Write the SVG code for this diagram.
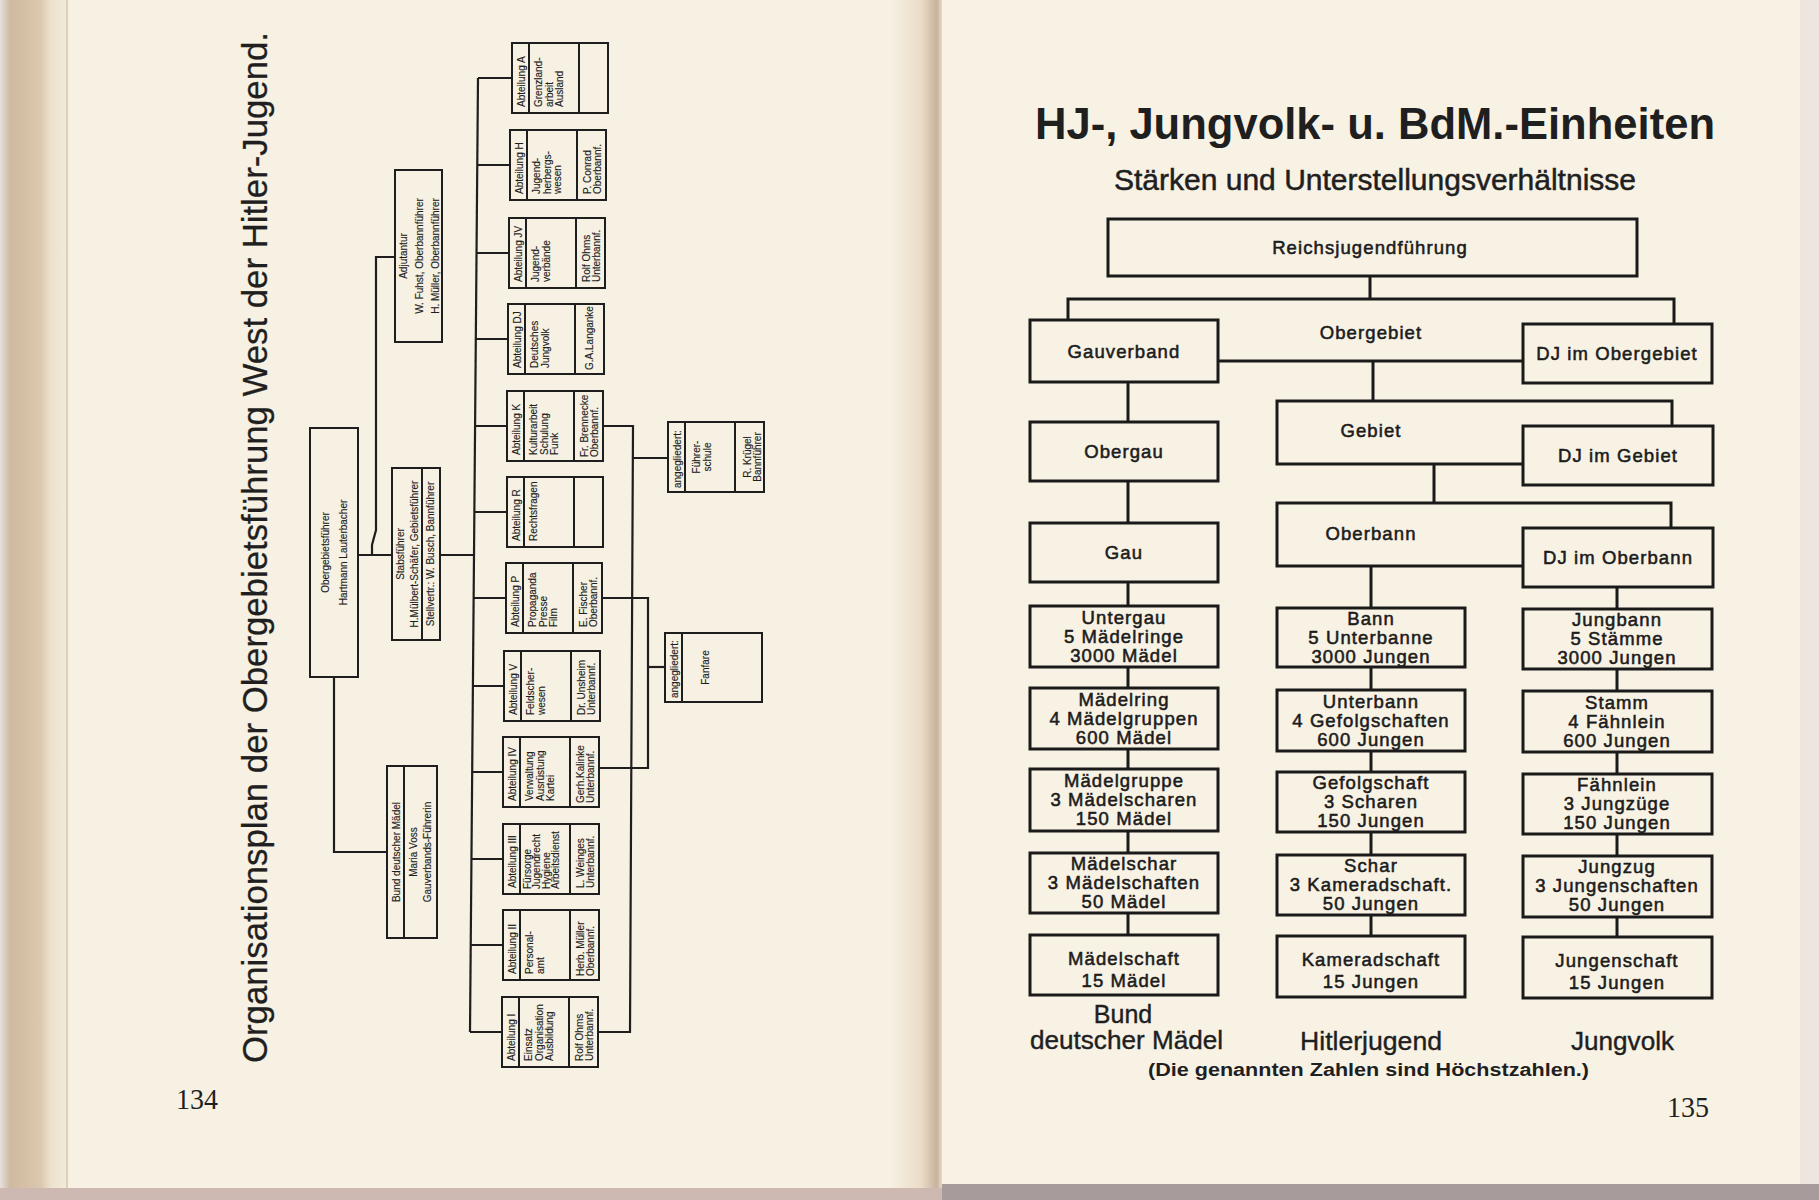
<svg xmlns="http://www.w3.org/2000/svg" xmlns:xlink="http://www.w3.org/1999/xlink" width="1819" height="1200" viewBox="0 0 1819 1200">
<style>
.lb{fill:none;stroke:#1e1e1e;stroke-width:2}
.ll{fill:none;stroke:#1e1e1e;stroke-width:2.2}
.rb{fill:none;stroke:#1a1a1a;stroke-width:3}
.rl{fill:none;stroke:#1a1a1a;stroke-width:3}
.s{font-family:"Liberation Sans",Arial,sans-serif;font-size:10px;fill:#1e1e1e;stroke:#1e1e1e;stroke-width:0.15}
.c{text-anchor:middle}
.rt{font-family:"Liberation Sans",Arial,sans-serif;font-size:18.5px;fill:#1c1c1c;stroke:#1c1c1c;stroke-width:0.55;text-anchor:middle;letter-spacing:1.1px}
.big{font-family:"Liberation Sans",Arial,sans-serif;fill:#1f1f1f}
.pn{font-family:"Liberation Serif","Times New Roman",serif;font-size:30px;fill:#1f1f1f}
</style>
<defs>
<linearGradient id="gut" x1="0" y1="0" x2="1" y2="0">
<stop offset="0" stop-color="#f7f1e3"/>
<stop offset="0.6" stop-color="#eadcc8"/>
<stop offset="0.9" stop-color="#c9b29c"/>
<stop offset="1" stop-color="#e6dac8"/>
</linearGradient>
<linearGradient id="edge" x1="0" y1="0" x2="1" y2="0">
<stop offset="0" stop-color="#e6e0de"/>
<stop offset="0.15" stop-color="#cfb9a0"/>
<stop offset="0.6" stop-color="#dcc8ae"/>
<stop offset="0.75" stop-color="#ede2cf"/>
<stop offset="1" stop-color="#f3eadb"/>
</linearGradient>
<g id="abt">
<rect class="lb" x="0" y="0" width="70" height="96"/>
<line class="lb" x1="0" y1="17" x2="70" y2="17"/>
<line class="lb" x1="0" y1="67" x2="70" y2="67"/>
</g>
</defs>

<!-- page background -->
<rect x="0" y="0" width="1819" height="1200" fill="#f7f1e3"/>
<rect x="0" y="0" width="68" height="1200" fill="url(#edge)"/>
<line x1="67" y1="0" x2="67" y2="1188" stroke="#d8c7ae" stroke-width="1.5"/>
<rect x="890" y="0" width="52" height="1200" fill="url(#gut)"/>
<rect x="942" y="0" width="877" height="1200" fill="#f8f2e5"/>
<rect x="1800" y="0" width="19" height="1200" fill="#ece6df"/>
<rect x="0" y="1188" width="942" height="12" fill="#cdb9b2"/>
<rect x="942" y="1184" width="877" height="16" fill="#a79c9b"/>

<!-- ================= LEFT PAGE ================= -->
<text class="big" transform="translate(267,1063) rotate(-90)" font-size="35" textLength="1031" lengthAdjust="spacingAndGlyphs" stroke="#1f1f1f" stroke-width="0.3">Organisationsplan der Obergebietsführung West der Hitler-Jugend.</text>
<text class="pn" x="176" y="1109" textLength="42" lengthAdjust="spacingAndGlyphs">134</text>

<g id="left-connectors">
<path class="ll" d="M478,78 L470,1032"/>
<path class="ll" d="M478,78 H512 M477.3,165 H510 M476.5,253 H509 M475.8,339 H508 M475.1,426 H507 M474.4,512 H507 M473.6,598 H506 M472.9,686 H504 M472.2,772 H503 M471.5,859 H503 M470.7,945 H503 M470,1032 H502"/>
<path class="ll" d="M358,555 H392 M440,555 H474.1"/>
<path class="ll" d="M372,555 V545 L376,530 V257 H395"/>
<path class="ll" d="M334,677 V852 H387"/>
<path class="ll" d="M603,426 H633 L630,1032 H598"/>
<path class="ll" d="M632.4,458 H668"/>
<path class="ll" d="M602,598 H648 V768 H599"/>
<path class="ll" d="M648,667 H665"/>
</g>

<g id="obergebietsfuehrer" transform="translate(310,677) rotate(-90)">
<rect class="lb" x="0" y="0" width="249" height="48"/>
<text class="s c" x="124.5" y="19">Obergebietsführer</text>
<text class="s c" x="124.5" y="37">Hartmann  Lauterbacher</text>
</g>

<g id="adjutantur" transform="translate(395,342) rotate(-90)">
<rect class="lb" x="0" y="0" width="172" height="47"/>
<text class="s c" x="86" y="11.5">Adjutantur</text>
<text class="s c" x="86" y="28">W. Fuhst, Oberbannführer</text>
<text class="s c" x="86" y="44">H. Müller, Oberbannführer</text>
</g>

<g id="stabsfuehrer" transform="translate(392,640) rotate(-90)">
<rect class="lb" x="0" y="0" width="172" height="48"/>
<line class="lb" x1="0" y1="30" x2="172" y2="30"/>
<text class="s c" x="86" y="12">Stabsführer</text>
<text class="s c" x="86" y="25.5" font-size="9.6">H.Mülbert-Schäfer, Gebietsführer</text>
<text class="s c" x="86" y="42" font-size="9.6">Stellvertr.: W. Busch, Bannführer</text>
</g>

<g id="bdm" transform="translate(387,938) rotate(-90)">
<rect class="lb" x="0" y="0" width="172" height="50"/>
<line class="lb" x1="0" y1="17" x2="172" y2="17"/>
<text class="s c" x="86" y="12.5">Bund deutscher Mädel</text>
<text class="s c" x="86" y="30">Maria  Voss</text>
<text class="s c" x="86" y="44">Gauverbands-Führerin</text>
</g>

<g id="abt-a" transform="translate(512,113) rotate(-90)">
<use xlink:href="#abt"/>
<text class="s" x="6" y="13">Abteilung A</text>
<text class="s" x="6" y="30">Grenzland-</text>
<text class="s" x="6" y="40.5">arbeit</text>
<text class="s" x="6" y="51">Ausland</text>
</g>
<g id="abt-h" transform="translate(510,200) rotate(-90)">
<use xlink:href="#abt"/>
<text class="s" x="6" y="13">Abteilung H</text>
<text class="s" x="6" y="30">Jugend-</text>
<text class="s" x="6" y="40.5">herbergs-</text>
<text class="s" x="6" y="51">wesen</text>
<text class="s" x="6" y="81">P. Conrad</text>
<text class="s" x="6" y="91">Oberbannf.</text>
</g>
<g id="abt-jv" transform="translate(509,288) rotate(-90)">
<use xlink:href="#abt"/>
<text class="s" x="6" y="13">Abteilung JV</text>
<text class="s" x="6" y="30">Jugend-</text>
<text class="s" x="6" y="40.5">verbände</text>
<text class="s" x="6" y="81">Rolf Ohms</text>
<text class="s" x="6" y="91">Unterbannf.</text>
</g>
<g id="abt-dj" transform="translate(508,374) rotate(-90)">
<use xlink:href="#abt"/>
<text class="s" x="6" y="13">Abteilung DJ</text>
<text class="s" x="6" y="30">Deutsches</text>
<text class="s" x="6" y="40.5">Jungvolk</text>
<text class="s" x="4" y="85">G.A.Langanke</text>
</g>
<g id="abt-k" transform="translate(507,461) rotate(-90)">
<use xlink:href="#abt"/>
<text class="s" x="6" y="13">Abteilung K</text>
<text class="s" x="6" y="30">Kulturarbeit</text>
<text class="s" x="6" y="40.5">Schulung</text>
<text class="s" x="6" y="51">Funk</text>
<text class="s" x="4" y="81">Fr. Brennecke</text>
<text class="s" x="4" y="91">Oberbannf.</text>
</g>
<g id="abt-r" transform="translate(507,547) rotate(-90)">
<use xlink:href="#abt"/>
<text class="s" x="6" y="13">Abteilung R</text>
<text class="s" x="6" y="30">Rechtsfragen</text>
</g>
<g id="abt-p" transform="translate(506,633) rotate(-90)">
<use xlink:href="#abt"/>
<text class="s" x="6" y="13">Abteilung P</text>
<text class="s" x="6" y="30">Propaganda</text>
<text class="s" x="6" y="40.5">Presse</text>
<text class="s" x="6" y="51">Film</text>
<text class="s" x="6" y="81">E. Fischer</text>
<text class="s" x="6" y="91">Oberbannf.</text>
</g>
<g id="abt-v" transform="translate(504,721) rotate(-90)">
<use xlink:href="#abt"/>
<text class="s" x="6" y="13">Abteilung V</text>
<text class="s" x="6" y="30">Feldscher-</text>
<text class="s" x="6" y="40.5">wesen</text>
<text class="s" x="6" y="81">Dr. Unsheim</text>
<text class="s" x="6" y="91">Unterbannf.</text>
</g>
<g id="abt-iv" transform="translate(503,807) rotate(-90)">
<use xlink:href="#abt"/>
<text class="s" x="6" y="13">Abteilung IV</text>
<text class="s" x="6" y="30">Verwaltung</text>
<text class="s" x="6" y="40.5">Ausrüstung</text>
<text class="s" x="6" y="51">Kartei</text>
<text class="s" x="4" y="81">Gerh.Kalinke</text>
<text class="s" x="4" y="91">Unterbannf.</text>
</g>
<g id="abt-iii" transform="translate(503,894) rotate(-90)">
<use xlink:href="#abt"/>
<text class="s" x="6" y="13">Abteilung III</text>
<text class="s" x="5" y="27.5" font-size="9.5">Fürsorge</text>
<text class="s" x="5" y="37" font-size="9.5">Jugendrecht</text>
<text class="s" x="5" y="46.5" font-size="9.5">Hygiene</text>
<text class="s" x="5" y="56" font-size="9.5">Arbeitsdienst</text>
<text class="s" x="6" y="81">L. Weinges</text>
<text class="s" x="6" y="91">Unterbannf.</text>
</g>
<g id="abt-ii" transform="translate(503,980) rotate(-90)">
<use xlink:href="#abt"/>
<text class="s" x="6" y="13">Abteilung II</text>
<text class="s" x="6" y="30">Personal-</text>
<text class="s" x="6" y="40.5">amt</text>
<text class="s" x="4" y="81">Herb. Müller</text>
<text class="s" x="4" y="91">Oberbannf.</text>
</g>
<g id="abt-i" transform="translate(502,1067) rotate(-90)">
<use xlink:href="#abt"/>
<text class="s" x="6" y="13">Abteilung I</text>
<text class="s" x="6" y="30">Einsatz</text>
<text class="s" x="6" y="40.5">Organisation</text>
<text class="s" x="6" y="51">Ausbildung</text>
<text class="s" x="6" y="81">Rolf Ohms</text>
<text class="s" x="6" y="91">Unterbannf.</text>
</g>

<g id="fuehrerschule" transform="translate(668,492) rotate(-90)">
<use xlink:href="#abt"/>
<text class="s" x="4" y="13">angegliedert:</text>
<text class="s c" x="35" y="32">Führer-</text>
<text class="s c" x="35" y="43">schule</text>
<text class="s c" x="35" y="83">R. Krügel</text>
<text class="s c" x="35" y="93" font-size="9.5">Bannführer</text>
</g>

<g id="fanfare" transform="translate(665,702) rotate(-90)">
<rect class="lb" x="0" y="0" width="69" height="97"/>
<line class="lb" x1="0" y1="17" x2="69" y2="17"/>
<text class="s" x="4" y="13">angegliedert:</text>
<text class="s c" x="34.5" y="44" font-size="9.5">Fanfare</text>
</g>

<!-- ================= RIGHT PAGE ================= -->
<text class="big" x="1035" y="139" font-size="45" font-weight="bold" textLength="680" lengthAdjust="spacingAndGlyphs">HJ-, Jungvolk- u. BdM.-Einheiten</text>
<text class="big" x="1114" y="190" font-size="30" textLength="522" lengthAdjust="spacingAndGlyphs" stroke="#1f1f1f" stroke-width="0.5">Stärken und Unterstellungsverhältnisse</text>

<g id="right-connectors">
<path class="rl" d="M1370,276 V299"/>
<path class="rl" d="M1068,320 V299 H1674 V324"/>
<path class="rl" d="M1218,361 H1523"/>
<path class="rl" d="M1373,361 V401"/>
<path class="rl" d="M1523,464 H1277 V401 H1672 V426"/>
<path class="rl" d="M1434,464 V503"/>
<path class="rl" d="M1523,566 H1277 V503 H1671 V528"/>
<path class="rl" d="M1371,566 V608"/>
<path class="rl" d="M1128,382 V422 M1128,481 V523 M1128,582 V606 M1128,667 V688 M1128,749 V769 M1128,831 V853 M1128,913 V935"/>
<path class="rl" d="M1371,667 V690 M1371,751 V772 M1371,832 V855 M1371,915 V936"/>
<path class="rl" d="M1617,587 V609 M1617,669 V691 M1617,752 V774 M1617,834 V856 M1617,917 V937"/>
</g>

<g id="reichsjugendfuehrung">
<rect class="rb" x="1108" y="219" width="529" height="57"/>
<text class="rt" x="1370" y="254">Reichsjugendführung</text>
</g>
<g id="obergebiet"><text class="rt" x="1371" y="339">Obergebiet</text></g>
<g id="gebiet"><text class="rt" x="1371" y="437">Gebiet</text></g>
<g id="oberbann"><text class="rt" x="1371" y="540">Oberbann</text></g>

<g id="gauverband"><rect class="rb" x="1030" y="320" width="188" height="62"/><text class="rt" x="1124" y="358">Gauverband</text></g>
<g id="dj-obergebiet"><rect class="rb" x="1523" y="324" width="189" height="59"/><text class="rt" x="1617" y="360" letter-spacing="0.6">DJ im Obergebiet</text></g>
<g id="obergau"><rect class="rb" x="1030" y="422" width="188" height="59"/><text class="rt" x="1124" y="458">Obergau</text></g>
<g id="dj-gebiet"><rect class="rb" x="1523" y="426" width="190" height="59"/><text class="rt" x="1618" y="462" letter-spacing="2.2">DJ im Gebiet</text></g>
<g id="gau"><rect class="rb" x="1030" y="523" width="188" height="59"/><text class="rt" x="1124" y="559">Gau</text></g>
<g id="dj-oberbann"><rect class="rb" x="1523" y="528" width="190" height="59"/><text class="rt" x="1618" y="564" letter-spacing="1.8">DJ im Oberbann</text></g>

<g id="untergau"><rect class="rb" x="1030" y="606" width="188" height="61"/>
<text class="rt" x="1124" y="624">Untergau</text><text class="rt" x="1124" y="643">5 Mädelringe</text><text class="rt" x="1124" y="662">3000 Mädel</text></g>
<g id="maedelring"><rect class="rb" x="1030" y="688" width="188" height="61"/>
<text class="rt" x="1124" y="706">Mädelring</text><text class="rt" x="1124" y="725">4 Mädelgruppen</text><text class="rt" x="1124" y="744">600 Mädel</text></g>
<g id="maedelgruppe"><rect class="rb" x="1030" y="769" width="188" height="62"/>
<text class="rt" x="1124" y="787">Mädelgruppe</text><text class="rt" x="1124" y="806">3 Mädelscharen</text><text class="rt" x="1124" y="825">150 Mädel</text></g>
<g id="maedelschar"><rect class="rb" x="1030" y="853" width="188" height="60"/>
<text class="rt" x="1124" y="870">Mädelschar</text><text class="rt" x="1124" y="889">3 Mädelschaften</text><text class="rt" x="1124" y="908">50 Mädel</text></g>
<g id="maedelschaft"><rect class="rb" x="1030" y="935" width="188" height="60"/>
<text class="rt" x="1124" y="965">Mädelschaft</text><text class="rt" x="1124" y="987">15 Mädel</text></g>

<g id="bann"><rect class="rb" x="1277" y="608" width="188" height="59"/>
<text class="rt" x="1371" y="625">Bann</text><text class="rt" x="1371" y="644">5 Unterbanne</text><text class="rt" x="1371" y="663">3000 Jungen</text></g>
<g id="unterbann"><rect class="rb" x="1277" y="690" width="188" height="61"/>
<text class="rt" x="1371" y="708">Unterbann</text><text class="rt" x="1371" y="727">4 Gefolgschaften</text><text class="rt" x="1371" y="746">600 Jungen</text></g>
<g id="gefolgschaft"><rect class="rb" x="1277" y="772" width="188" height="60"/>
<text class="rt" x="1371" y="789">Gefolgschaft</text><text class="rt" x="1371" y="808">3 Scharen</text><text class="rt" x="1371" y="827">150 Jungen</text></g>
<g id="schar"><rect class="rb" x="1277" y="855" width="188" height="60"/>
<text class="rt" x="1371" y="872">Schar</text><text class="rt" x="1371" y="891">3 Kameradschaft.</text><text class="rt" x="1371" y="910">50 Jungen</text></g>
<g id="kameradschaft"><rect class="rb" x="1277" y="936" width="188" height="61"/>
<text class="rt" x="1371" y="966">Kameradschaft</text><text class="rt" x="1371" y="988">15 Jungen</text></g>

<g id="jungbann"><rect class="rb" x="1523" y="609" width="189" height="60"/>
<text class="rt" x="1617" y="626">Jungbann</text><text class="rt" x="1617" y="645">5 Stämme</text><text class="rt" x="1617" y="664">3000 Jungen</text></g>
<g id="stamm"><rect class="rb" x="1523" y="691" width="189" height="61"/>
<text class="rt" x="1617" y="709">Stamm</text><text class="rt" x="1617" y="728">4 Fähnlein</text><text class="rt" x="1617" y="747">600 Jungen</text></g>
<g id="faehnlein"><rect class="rb" x="1523" y="774" width="189" height="60"/>
<text class="rt" x="1617" y="791">Fähnlein</text><text class="rt" x="1617" y="810">3 Jungzüge</text><text class="rt" x="1617" y="829">150 Jungen</text></g>
<g id="jungzug"><rect class="rb" x="1523" y="856" width="189" height="61"/>
<text class="rt" x="1617" y="873">Jungzug</text><text class="rt" x="1617" y="892">3 Jungenschaften</text><text class="rt" x="1617" y="911">50 Jungen</text></g>
<g id="jungenschaft"><rect class="rb" x="1523" y="937" width="189" height="61"/>
<text class="rt" x="1617" y="967">Jungenschaft</text><text class="rt" x="1617" y="989">15 Jungen</text></g>

<g id="column-labels">
<text class="big" x="1123" y="1023" font-size="25" text-anchor="middle" stroke="#1f1f1f" stroke-width="0.4">Bund</text>
<text class="big" x="1030" y="1049" font-size="25" textLength="193" lengthAdjust="spacingAndGlyphs" stroke="#1f1f1f" stroke-width="0.4">deutscher Mädel</text>
<text class="big" x="1300" y="1050" font-size="26" textLength="142" lengthAdjust="spacingAndGlyphs" stroke="#1f1f1f" stroke-width="0.4">Hitlerjugend</text>
<text class="big" x="1571" y="1050" font-size="26" textLength="103" lengthAdjust="spacingAndGlyphs" stroke="#1f1f1f" stroke-width="0.4">Jungvolk</text>
<text class="big" x="1148" y="1076" font-size="18" font-weight="bold" textLength="441" lengthAdjust="spacingAndGlyphs">(Die genannten Zahlen sind Höchstzahlen.)</text>
</g>
<text class="pn" x="1667" y="1117" textLength="42" lengthAdjust="spacingAndGlyphs">135</text>
</svg>
